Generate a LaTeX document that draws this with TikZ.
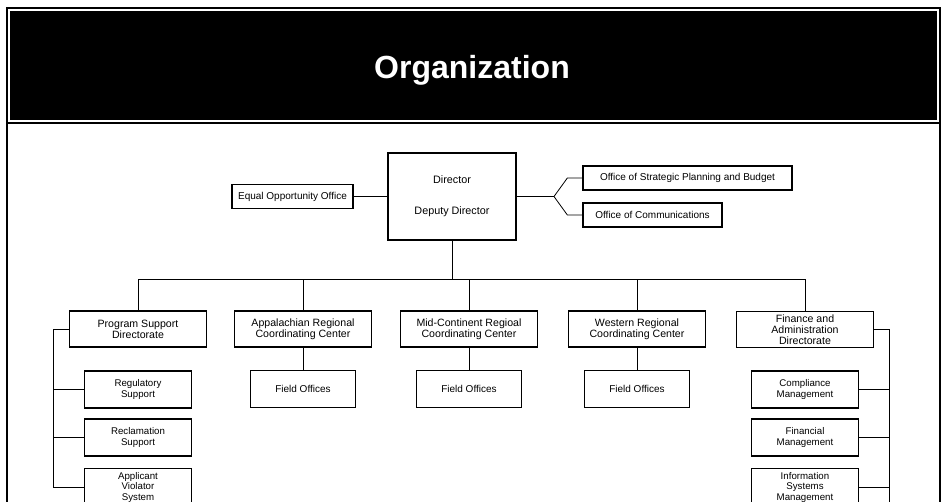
\documentclass[tikz,border=0pt]{standalone}
\usepackage{fontspec}
\setmainfont{Liberation Sans}
\begin{document}
\begin{tikzpicture} [
                x=1pt, y=-1pt,
                box/.style={draw,line width=1.3pt,align=center,inner sep=1pt,font=\fontsize{10}{11}\selectfont},
                unit/.style={box,minimum width=137pt,minimum height=36pt,font=\fontsize{10.6}{11}\selectfont},
                field/.style={box,minimum width=105pt,minimum height=37pt},
                sub/.style={box,minimum width=107pt,minimum height=37pt,font=\fontsize{9.7}{10.5}\selectfont},
                office/.style={box,minimum height=24pt},
                link/.style={draw,line width=0.8pt},
            ]
            \useasboundingbox (0,0) rectangle (946,502);
            \clip (0,0) rectangle (946,502);
            % frame and title bar
            \draw[line width=1.6pt] (7,8) rectangle (940,530);
            \draw[line width=1.2pt] (7,123) -- (940,123);
            \fill[black] (10,11) rectangle (937,120);
            \node[text=white,font=\bfseries\fontsize{32}{36}\selectfont,anchor=base] (title) at (472,79) {Organization};
            % top
            \node[box,minimum width=128pt,minimum height=87pt,font=\fontsize{10.8}{12}\selectfont] (director) at (452,196.5) {Director\\[19pt]Deputy Director};
            \node[office,minimum width=121pt] (eeo) at (292.5,196.5) {Equal Opportunity Office};
            \node[office,minimum width=209pt] (osp) at (687.5,178) {Office of Strategic Planning and Budget};
            \node[office,minimum width=139pt] (comm) at (652.5,215) {Office of Communications};
            % directorates and centers
            \foreach \pos/\name/\txt in {
            {(138,329)/psd/{Program Support\\Directorate}},
            {(303,329)/arc/{Appalachian Regional\\Coordinating Center}},
            {(469,329)/mcc/{Mid-Continent Regioal\\Coordinating Center}},
            {(637,329)/wrc/{Western Regional\\Coordinating Center}},
            {(805,329.5)/fad/{Finance and\\Administration\\Directorate}}}
                \node[unit] (\name) at \pos {\txt};
            \foreach \pos/\name in {
            {(303,389)/arcf}, {(469,389)/mccf}, {(637,389)/wrcf}}
                \node[field] (\name) at \pos {Field Offices};
            \foreach \pos/\name/\txt in {
            {(138,389.5)/reg/{Regulatory\\Support}},
            {(138,437.5)/rec/{Reclamation\\Support}},
            {(138,487)/avs/{Applicant\\Violator\\System}},
            {(805,389.5)/cm/{Compliance\\Management}},
            {(805,437.5)/fm/{Financial\\Management}},
            {(805,487)/ism/{Information\\Systems\\Management}}}
                \node[sub] (\name) at \pos {\txt};
            % connectors
            \coordinate (bus) at (452,279);
            \coordinate (fork) at (554,196.5);
            \coordinate (rspine) at (889,520);
            \path[link] (eeo.east) -- (director.west);
            \path[link] (director.east) -- (fork) -- ([xshift=-15pt]osp.west) -- (osp.west);
            \path[link] (fork) -- ([xshift=-15pt]comm.west) -- (comm.west);
            \path[link] (director.south) -- (bus);
            \foreach \name in {psd,arc,mcc,wrc,fad}
                \path[link] (\name.north) |- (bus);
            \foreach \source/ \dest in {
                    arc/arcf,mcc/mccf,wrc/wrcf}
                \path[link] (\source) -- (\dest);
            \foreach \dest in {reg,rec,avs}
                \path[link] (psd.west) -- ++(-15,0) |- (\dest.west);
            \foreach \dest in {cm,fm,ism}
                \path[link] (fad.east) -| (rspine |- \dest.east) -- (\dest.east);
            \path[link] (fad.east) -| (rspine);
        \end{tikzpicture}
\end{document}
